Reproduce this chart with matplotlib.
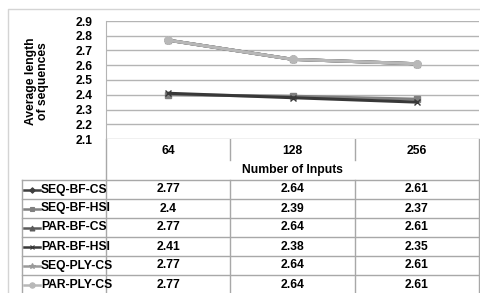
import matplotlib
matplotlib.use('Agg')
import numpy as np
from matplotlib import pyplot as plt
from matplotlib.lines import Line2D

plt.rcParams['font.family'] = ['Liberation Sans', 'DejaVu Sans']
plt.rcParams['font.weight'] = 'bold'

# data
inputs = ['64', '128', '256']
series_names = ['SEQ-BF-CS', 'SEQ-BF-HSI', 'PAR-BF-CS',
                'PAR-BF-HSI', 'SEQ-PLY-CS', 'PAR-PLY-CS']
seq_bf_cs = [2.77, 2.64, 2.61]
seq_bf_hsi = [2.4, 2.39, 2.37]
par_bf_cs = [2.77, 2.64, 2.61]
par_bf_hsi = [2.41, 2.38, 2.35]
seq_ply_cs = [2.77, 2.64, 2.61]
par_ply_cs = [2.77, 2.64, 2.61]
yticks = [2.1, 2.2, 2.3, 2.4, 2.5, 2.6, 2.7, 2.8, 2.9]

values = [seq_bf_cs, seq_bf_hsi, par_bf_cs, par_bf_hsi, seq_ply_cs, par_ply_cs]
colors = ['#3f3f3f', '#808080', '#5a5a5a', '#383838', '#9a9a9a', '#b8b8b8']
markers = ['D', 's', '^', 'x', '*', 'o']
msizes = [4, 5, 5, 5, 5.5, 5.5]

FS = 8.7
W, H = 480, 293
fig = plt.figure(figsize=(W / 100, H / 100), dpi=100)

# pixel layout of the plot area
px_left, px_right, px_top, px_bottom = 106, 479, 21, 139
ax = fig.add_axes([px_left / W, 1 - px_bottom / H,
                   (px_right - px_left) / W, (px_bottom - px_top) / H])
x = np.arange(len(inputs))
for name, vals, c, m, ms_ in zip(series_names, values, colors, markers, msizes):
    ax.plot(x, vals, color=c, lw=2.2, marker=m, ms=ms_, mew=1.0,
            solid_capstyle='round')
ax.set_xlim(-0.5, len(inputs) - 0.5)
ax.set_ylim(2.1, 2.9)
ax.set_yticks(yticks)
ax.set_yticklabels([f'{v:.1f}' for v in yticks], fontsize=FS, fontweight='bold')
ax.set_xticks([])
ax.tick_params(axis='y', length=0, pad=9.5)
ax.yaxis.grid(True, color='#b4b4b4', lw=1)
ax.set_axisbelow(True)
for s in ['top', 'right', 'bottom']:
    ax.spines[s].set_visible(False)
ax.spines['left'].set_color('#b4b4b4')

fig.text(37 / W, 1 - 81 / H, 'Average length\nof sequences', rotation=90,
         ha='center', va='center', fontsize=FS, fontweight='bold',
         multialignment='center', linespacing=1.05)

# overlay in pixel coordinates for the data table
ov = fig.add_axes([0, 0, 1, 1], zorder=-1)
ov.set_xlim(0, W)
ov.set_ylim(H, 0)
ov.axis('off')
ov.patch.set_alpha(0)

lc = '#a8a8a8'
# chart border
ov.add_line(Line2D([8, 8, 490], [300, 9, 9], color='#d4d4d4', lw=1))

col_w = (px_right - px_left) / len(inputs)
col_edges = [px_left + i * col_w for i in range(len(inputs) + 1)]
row_top = 180
row_h = 19
tab_left = 22

# header verticals
ov.add_line(Line2D([px_left, px_left], [px_bottom, row_top], color=lc, lw=1))
ov.add_line(Line2D([px_right, px_right], [px_bottom, row_top], color=lc, lw=1))
for xe in col_edges[1:-1]:
    ov.add_line(Line2D([xe, xe], [px_bottom, px_bottom + 21], color=lc, lw=1))

for i, lab in enumerate(inputs):
    ov.text(px_left + (i + 0.5) * col_w, 151, lab, ha='center', va='center',
            fontsize=FS, fontweight='bold')
ov.text((px_left + px_right) / 2, 170, 'Number of Inputs', ha='center',
        va='center', fontsize=FS, fontweight='bold')

n_rows = len(series_names)
for r in range(n_rows + 1):
    yy = row_top + r * row_h
    ov.add_line(Line2D([tab_left, px_right], [yy, yy], color=lc, lw=1))
bottom = row_top + n_rows * row_h
for xe in [tab_left] + col_edges:
    ov.add_line(Line2D([xe, xe], [row_top, bottom], color=lc, lw=1))

for r, (name, vals, c, m, ms_) in enumerate(zip(series_names, values,
                                                 colors, markers, msizes)):
    yc = row_top + (r + 0.5) * row_h
    ov.add_line(Line2D([24, 40], [yc, yc], color=c, lw=1.8))
    ov.add_line(Line2D([32], [yc], color=c, marker=m, ms=ms_ * 0.7, mew=0.8))
    ov.text(41, yc, name, ha='left', va='center', fontsize=FS,
            fontweight='bold')
    for i, v in enumerate(vals):
        ov.text(px_left + (i + 0.5) * col_w, yc, f'{v:g}', ha='center',
                va='center', fontsize=FS, fontweight='bold')

fig.savefig('out.png', dpi=100)
